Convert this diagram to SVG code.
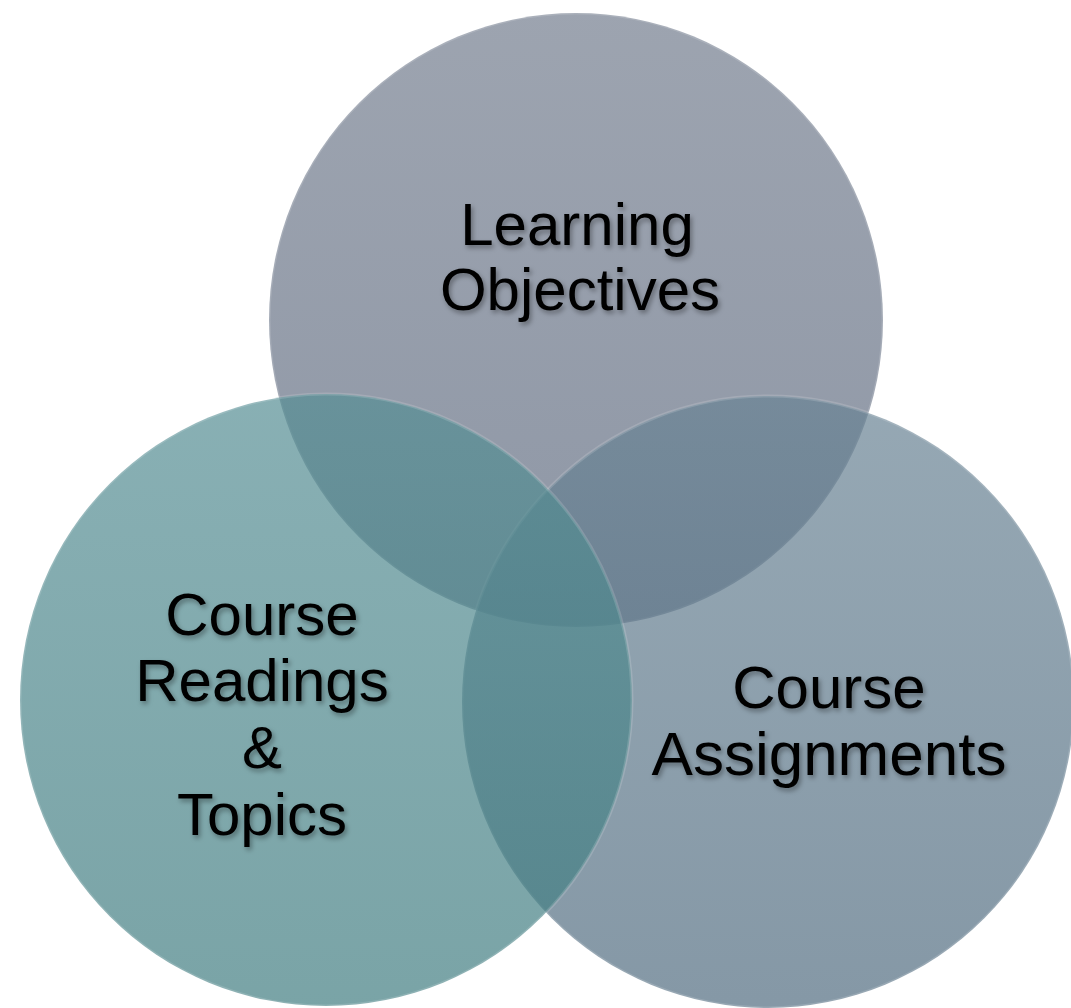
<svg xmlns="http://www.w3.org/2000/svg" width="1071" height="1008" viewBox="0 0 1071 1008">
  <defs>
    <linearGradient id="gTop" x1="0" y1="0" x2="0" y2="1">
      <stop offset="0" stop-color="#737d8e"/>
      <stop offset="1" stop-color="#5f6b80"/>
    </linearGradient>
    <linearGradient id="gLeft" x1="0" y1="0" x2="0" y2="1">
      <stop offset="0" stop-color="#568e94"/>
      <stop offset="1" stop-color="#417d81"/>
    </linearGradient>
    <linearGradient id="gRight" x1="0" y1="0" x2="0" y2="1">
      <stop offset="0" stop-color="#698394"/>
      <stop offset="1" stop-color="#516c80"/>
    </linearGradient>
    <filter id="tshadow" x="-10%" y="-20%" width="120%" height="150%">
      <feDropShadow dx="2" dy="3" stdDeviation="2.5" flood-color="#000" flood-opacity="0.35"/>
    </filter>
  </defs>
  <style>
    .circ { fill-opacity: 0.7; stroke: #ffffff; stroke-opacity: 0.15; stroke-width: 3; }
    .lbl { font-family: "Liberation Sans", Arial, sans-serif; font-size: 60px; fill: #000; text-anchor: middle; filter: url(#tshadow); }
  </style>
  <rect width="1071" height="1008" fill="#ffffff"/>
  <g id="shapes">
    <circle id="circle-top" class="circ" cx="576" cy="320" r="307" fill="url(#gTop)"/>
    <circle id="circle-right" class="circ" cx="768" cy="702" r="306" fill="url(#gRight)"/>
    <circle id="circle-left" class="circ" cx="326" cy="700" r="306" fill="url(#gLeft)"/>
  </g>
  <g id="connectors"></g>
  <g id="node-learning">
    <text class="lbl" x="577" y="245">Learning</text>
    <text class="lbl" x="580" y="310">Objectives</text>
  </g>
  <g id="node-readings">
    <text class="lbl" x="262" y="635">Course</text>
    <text class="lbl" x="262" y="701">Readings</text>
    <text class="lbl" x="262" y="768">&amp;</text>
    <text class="lbl" x="262" y="835">Topics</text>
  </g>
  <g id="node-assignments">
    <text class="lbl" x="829" y="708">Course</text>
    <text class="lbl" x="829" y="775" style="font-size:62px">Assignments</text>
  </g>
</svg>
